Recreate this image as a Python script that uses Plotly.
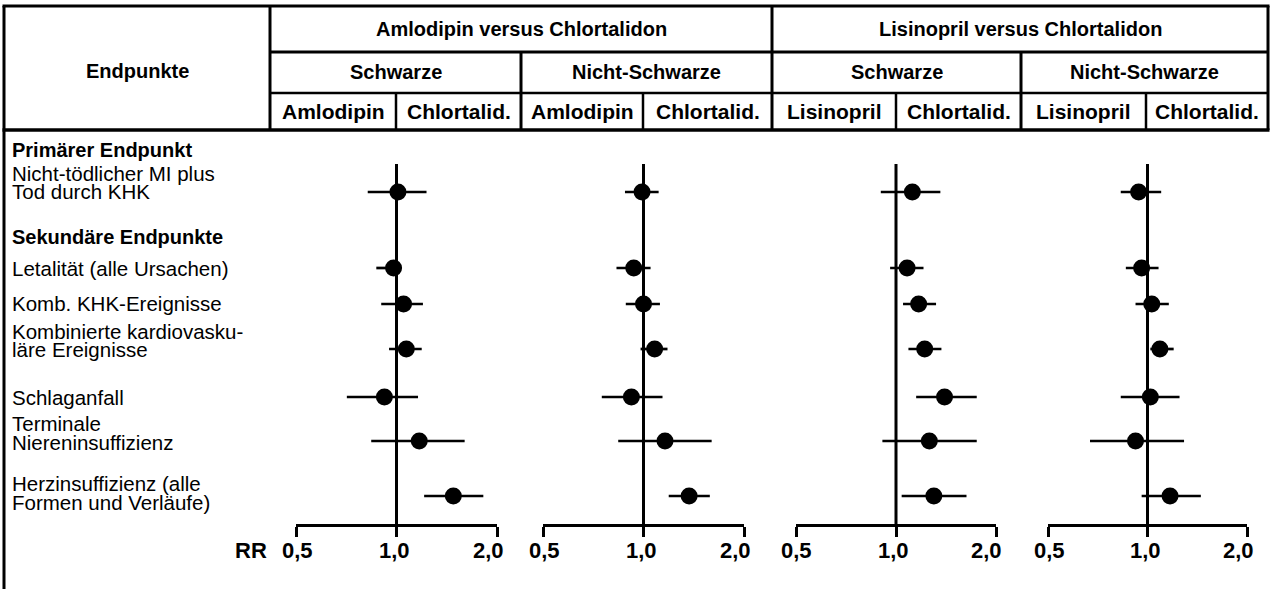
import math
import plotly.graph_objects as go

# ---------------- data ----------------
endpoints = [
    "Nicht-tödlicher MI plus<br>Tod durch KHK",
    "Letalität (alle Ursachen)",
    "Komb. KHK-Ereignisse",
    "Kombinierte kardiovasku-<br>läre Ereignisse",
    "Schlaganfall",
    "Terminale<br>Niereninsuffizienz",
    "Herzinsuffizienz (alle<br>Formen und Verläufe)",
]
sections = ["Primärer Endpunkt", "Sekundäre Endpunkte"]
header_left = "Endpunkte"
comparisons = ["Amlodipin versus Chlortalidon", "Lisinopril versus Chlortalidon"]
groups = ["Schwarze", "Nicht-Schwarze", "Schwarze", "Nicht-Schwarze"]
arms = ["Amlodipin", "Chlortalid.", "Amlodipin", "Chlortalid.",
        "Lisinopril", "Chlortalid.", "Lisinopril", "Chlortalid."]

# relative risk (RR) with 95% CI, one list per panel
rr_aml_black = [1.01, 0.98, 1.05, 1.07, 0.92, 1.17, 1.48]
lo_aml_black = [0.82, 0.87, 0.90, 0.95, 0.71, 0.84, 1.21]
hi_aml_black = [1.23, 1.03, 1.20, 1.19, 1.16, 1.60, 1.82]

rr_aml_nonblack = [0.99, 0.935, 1.00, 1.08, 0.92, 1.16, 1.37]
lo_aml_nonblack = [0.88, 0.83, 0.885, 0.98, 0.75, 0.84, 1.19]
hi_aml_nonblack = [1.11, 1.05, 1.12, 1.18, 1.14, 1.60, 1.58]

rr_lis_black = [1.12, 1.08, 1.17, 1.22, 1.40, 1.26, 1.30]
lo_lis_black = [0.90, 0.96, 1.05, 1.09, 1.15, 0.91, 1.04]
hi_lis_black = [1.36, 1.21, 1.32, 1.37, 1.75, 1.75, 1.63]

rr_lis_nonblack = [0.94, 0.96, 1.03, 1.09, 1.02, 0.92, 1.17]
lo_lis_nonblack = [0.83, 0.86, 0.92, 1.02, 0.83, 0.67, 0.96]
hi_lis_nonblack = [1.10, 1.08, 1.16, 1.20, 1.25, 1.29, 1.45]

tick_vals = [0.5, 1.0, 2.0]
tick_text = ["0,5", "1,0", "2,0"]
axis_label = "RR"

# ---------------- layout constants (pixels) ----------------
W, H = 1271, 589
FONT = "Liberation Sans, Arial, sans-serif"
FS_ROW = 20.5
FS_BOLD = 20
FS_ARM = 21
FS_TICK = 22
PANEL_X = [(296, 497), (543, 744), (796, 996), (1048, 1247)]
PLOT_TOP, PLOT_BOT = 135, 524          # y-axis range (pixel-like units, reversed)
ROW_Y = [192, 268, 304, 349, 397, 441, 496]     # row positions on y axis
LABEL_LINES_Y = [[173, 192], [268], [303], [331, 350], [397], [423, 442], [483, 502]]
SECTION_Y = [150, 237]
REF_TOP = 164
TICK_LABEL_Y = 550
TICK_SHIFT = [1, -2, -9]

HDR_TOP, HDR_R1, HDR_R2, HDR_BOT = 6, 52, 93, 130
LEFT, RIGHT, COL1 = 4, 1268, 270
GROUP_DIV = [521, 772, 1021]
ARM_DIV = [396, 643, 896, 1146]


def X(p):
    return p / W


def Y(p):
    return 1 - p / H


panels = [
    (rr_aml_black, lo_aml_black, hi_aml_black),
    (rr_aml_nonblack, lo_aml_nonblack, hi_aml_nonblack),
    (rr_lis_black, lo_lis_black, hi_lis_black),
    (rr_lis_nonblack, lo_lis_nonblack, hi_lis_nonblack),
]

fig = go.Figure()
layout_axes = {}
annotations = []


def note(x, y, text, size, xanchor="center", **kw):
    d = dict(x=x, xref="paper", y=Y(y), yref="paper", text=text,
             showarrow=False, xanchor=xanchor, yanchor="middle",
             font=dict(size=size))
    d.update(kw)
    annotations.append(d)


for i, (rr, lo, hi) in enumerate(panels):
    xa = "x" if i == 0 else f"x{i+1}"
    key = "xaxis" if i == 0 else f"xaxis{i+1}"
    x0, x1 = PANEL_X[i]
    layout_axes[key] = dict(
        type="log", range=[math.log10(tick_vals[0]), math.log10(tick_vals[-1])],
        domain=[X(x0), X(x1)], anchor="y",
        showline=True, linecolor="black", linewidth=2.5,
        ticks="outside", ticklen=10, tickwidth=2.5, tickcolor="black",
        tickvals=tick_vals, showticklabels=False,
        showgrid=False, zeroline=False, fixedrange=True,
    )
    # reference line at RR = 1
    fig.add_trace(go.Scatter(
        x=[1, 1], y=[REF_TOP, PLOT_BOT], xaxis=xa, yaxis="y",
        mode="lines", line=dict(color="black", width=3), hoverinfo="skip",
    ))
    fig.add_trace(go.Scatter(
        x=rr, y=ROW_Y, xaxis=xa, yaxis="y", mode="markers",
        marker=dict(size=17, color="black"),
        error_x=dict(type="data", symmetric=False,
                     array=[h - r for r, h in zip(rr, hi)],
                     arrayminus=[r - l for r, l in zip(rr, lo)],
                     thickness=2.7, width=0, color="black"),
        text=[e.replace("<br>", " ") for e in endpoints],
        hovertemplate="%{text}<br>RR %{x}<extra></extra>",
    ))
    for v, t, s in zip(tick_vals, tick_text, TICK_SHIFT):
        annotations.append(dict(
            x=math.log10(v), xref=xa, y=Y(TICK_LABEL_Y), yref="paper",
            text=f"<b>{t}</b>", showarrow=False, xshift=s,
            xanchor="center", yanchor="middle", font=dict(size=FS_TICK),
        ))

note(X(269), TICK_LABEL_Y, f"<b>{axis_label}</b>", FS_TICK, xanchor="right")

# left column labels
for txt, ys in zip(endpoints, LABEL_LINES_Y):
    for line, yy in zip(txt.split("<br>"), ys):
        note(X(10), yy, line, FS_ROW, xanchor="left")
for txt, yy in zip(sections, SECTION_Y):
    note(X(10), yy, f"<b>{txt}</b>", FS_BOLD, xanchor="left")

# header texts
note(X((LEFT + COL1) / 2), 71, f"<b>{header_left}</b>", FS_BOLD)
comp_edges = [COL1, GROUP_DIV[1], RIGHT]
for j, c in enumerate(comparisons):
    note(X((comp_edges[j] + comp_edges[j + 1]) / 2), 29, f"<b>{c}</b>", FS_BOLD)
grp_edges = [COL1] + GROUP_DIV + [RIGHT]
for j, g in enumerate(groups):
    note(X((grp_edges[j] + grp_edges[j + 1]) / 2), 72, f"<b>{g}</b>", FS_BOLD)
arm_edges = sorted([COL1] + GROUP_DIV + ARM_DIV + [RIGHT])
for j, a in enumerate(arms):
    note(X((arm_edges[j] + arm_edges[j + 1]) / 2), 111, f"<b>{a}</b>", FS_ARM)

# table lines
shapes = []


def hline(x0, x1, y, w=3):
    shapes.append(dict(type="line", xref="paper", yref="paper",
                       x0=X(x0), x1=X(x1), y0=Y(y), y1=Y(y),
                       line=dict(color="black", width=w)))


def vline(x, y0, y1, w=3):
    shapes.append(dict(type="line", xref="paper", yref="paper",
                       x0=X(x), x1=X(x), y0=Y(y0), y1=Y(y1),
                       line=dict(color="black", width=w)))


hline(LEFT - 1.5, RIGHT + 1.5, HDR_TOP)
hline(COL1, RIGHT, HDR_R1)
hline(COL1, RIGHT, HDR_R2, 2.5)
hline(LEFT - 1.5, RIGHT + 1.5, HDR_BOT, 3.5)
vline(LEFT, HDR_TOP, H + 2)
vline(RIGHT, HDR_TOP, HDR_BOT)
vline(COL1, HDR_TOP, HDR_BOT)
vline(GROUP_DIV[1], HDR_TOP, HDR_BOT)
vline(GROUP_DIV[0], HDR_R1, HDR_BOT)
vline(GROUP_DIV[2], HDR_R1, HDR_BOT)
for a in ARM_DIV:
    vline(a, HDR_R2, HDR_BOT, 2.5)

fig.update_layout(
    width=W, height=H, margin=dict(l=0, r=0, t=0, b=0),
    paper_bgcolor="white", plot_bgcolor="white", showlegend=False,
    font=dict(family=FONT, size=FS_ROW, color="black"),
    yaxis=dict(range=[PLOT_BOT, PLOT_TOP], domain=[Y(PLOT_BOT), Y(PLOT_TOP)],
               visible=False, fixedrange=True),
    annotations=annotations, shapes=shapes,
    **layout_axes,
)

fig.write_html(
    "out.html",
    config={"displayModeBar": False},
    post_script="document.body.style.margin='0';document.body.style.overflow='hidden';",
)
